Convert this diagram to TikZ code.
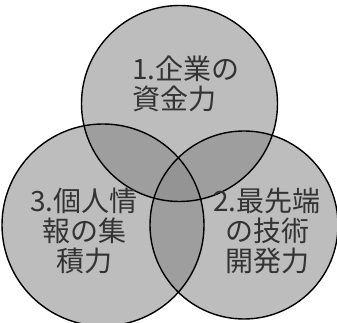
\documentclass[tikz,border=0pt]{standalone}
\usepackage{fontspec}
\newfontfamily\jp{Noto Sans CJK JP}
\definecolor{areaone}{gray}{0.74}
\definecolor{areatwo}{gray}{0.62}
\definecolor{areathree}{gray}{0.58}
\definecolor{ink}{gray}{0.2}
\tikzset{
  ring/.style={draw=black, line width=1.4pt},
  label/.style={font=\jp\fontsize{28}{30}\selectfont, text=ink, inner sep=0pt},
}
\begin{document}
\begin{tikzpicture}[x=1pt,y=1pt]
\useasboundingbox (0,0) rectangle (337,323);
\fill[white] (0,0) rectangle (337,323);
\clip (0,0) rectangle (337,323);
\coordinate (cT) at (179.5,219.5);
\coordinate (cL) at (103,98);
\coordinate (cR) at (244,98);
% single fills
\fill[areaone] (cT) circle[radius=98];
\fill[areaone] (cL) circle[radius=101];
\fill[areaone] (cR) circle[radius=94];
% pairwise overlaps
\begin{scope}
  \clip (cT) circle[radius=98];
  \fill[areatwo] (cL) circle[radius=101];
  \fill[areatwo] (cR) circle[radius=94];
\end{scope}
\begin{scope}
  \clip (cL) circle[radius=101];
  \fill[areatwo] (cR) circle[radius=94];
\end{scope}
\begin{scope}
  \clip (cT) circle[radius=98];
  \clip (cL) circle[radius=101];
  \fill[areathree] (cR) circle[radius=94];
\end{scope}
% outlines
\draw[ring] (cT) circle[radius=98];
\draw[ring] (cL) circle[radius=101];
\draw[ring] (cR) circle[radius=94];
% labels
\node[label, align=left] (t1) at (186,239) {1.企業の\\資金力};
\node[label, align=center] (t3) at (84,92) {3.個人情\\報の集\\積力};
\node[label, align=center] (t2) at (267,92) {2.最先端\\の技術\\開発力};
\end{tikzpicture}
\end{document}
